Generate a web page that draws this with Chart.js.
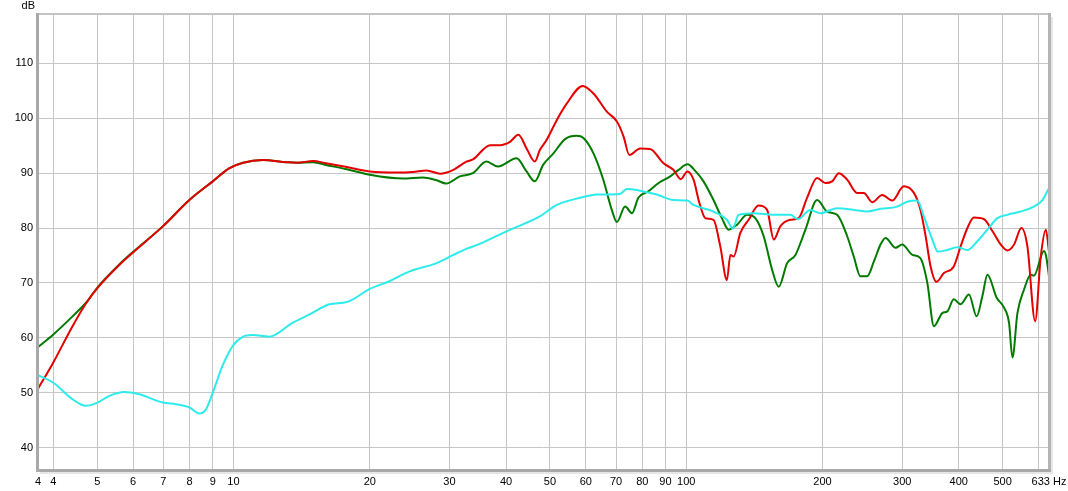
<!DOCTYPE html>
<html lang="en">
<head>
<meta charset="UTF-8">
<title>Frequency response</title>
<script src="https://cdn.jsdelivr.net/npm/chart.js@4.4.1/dist/chart.umd.min.js"></script>
<style>
    html, body { margin: 0; padding: 0; background: #fff; }
</style>
</head>
<body>
<canvas id="chart" width="1068" height="491"></canvas>
<script>
// x axis ticks (Hz) and their labels
const xTicks  = [3.7, 4, 5, 6, 7, 8, 9, 10, 20, 30, 40, 50, 60, 70, 80, 90, 100, 200, 300, 400, 500, 600, 633];
const xLabels = ['4', '4', '5', '6', '7', '8', '9', '10', '20', '30', '40', '50', '60', '70', '80', '90', '100', '200', '300', '400', '500', '', '633 Hz'];
const yTicks  = [40, 50, 60, 70, 80, 90, 100, 110];

// red curve
const redHz = [3.7, 4.0, 4.41, 4.76, 5.01, 5.6, 5.99, 6.98, 7.99, 9.0,
    9.8, 10.5, 11.6, 13.1, 13.8, 15.0, 16.0, 17.8, 20.0, 22.9,
    24.9, 26.7, 28.6, 30.6, 32.7, 33.8, 36.9, 38.8, 40.8, 42.6,
    44.4, 46.3, 47.5, 49.2, 51.8, 54.5, 59.1, 62.4, 66.8, 70.3,
    72.7, 74.9, 79.1, 83.2, 89.1, 93.7, 97.3, 100.6, 103.8, 107.0,
    110.2, 114.9, 118.9, 123.0, 125.2, 127.3, 131.7, 137.4, 144.5, 150.9,
    156.1, 161.4, 169.9, 177.2, 184.9, 194.6, 203.0, 210.1, 217.3, 226.8,
    238.6, 246.8, 257.6, 271.0, 285.2, 302.5, 318.4, 329.3, 338, 346.6,
    357, 371, 390, 404, 418, 432, 455, 475, 495, 512,
    530, 550, 567, 590, 607, 623, 633];
const redDb = [50.7, 55.5, 62.1, 66.7, 69.1, 73.3, 75.5, 80.3, 85.1, 88.5,
    90.9, 91.9, 92.4, 92.0, 91.9, 92.2, 91.8, 91.1, 90.3, 90.1,
    90.2, 90.5, 89.9, 90.6, 92.1, 92.5, 95.1, 95.1, 95.7, 97.0,
    94.5, 92.1, 94.2, 96.1, 99.7, 102.7, 105.9, 104.5, 101.2, 99.4,
    96.7, 93.3, 94.5, 94.4, 91.8, 90.6, 88.9, 90.3, 88.8, 84.5,
    81.8, 81.5, 76.7, 70.5, 75.1, 74.8, 79.1, 81.5, 84.1, 83.3,
    77.9, 80.3, 81.5, 81.8, 85.5, 89.1, 88.2, 88.5, 90.0, 88.8,
    86.4, 86.4, 84.7, 86.0, 85.0, 87.6, 86.4, 83.3, 78.5, 73.0,
    70.2, 71.8, 73.0, 76.7, 80.0, 81.9, 81.6, 79.4, 77.0, 75.9,
    77.0, 80.0, 76.7, 63.0, 74.8, 79.7, 75.7];

// green curve
const greenHz = [3.7, 4.0, 4.41, 4.76, 5.01, 5.6, 5.99, 6.98, 7.99, 9.0,
    9.8, 10.5, 11.6, 13.1, 13.8, 15.0, 16.0, 17.8, 20.0, 23.7,
    26.2, 28.1, 29.5, 31.6, 33.8, 36.2, 38.4, 42.2, 44.4, 46.3,
    48.3, 50.9, 54.0, 57.3, 59.3, 62.4, 65.6, 68.5, 70.3, 73.3,
    75.9, 78.4, 82.5, 86.9, 92.2, 96.2, 100.7, 104.7, 109.2, 114.9,
    119.9, 124.1, 129.5, 136.3, 142.1, 148.3, 154.8, 160.1, 167.1, 174.3,
    183.4, 194.6, 204.8, 215.5, 226.8, 234.5, 242.6, 251.0, 259.8, 268.7,
    275.6, 290.1, 300, 316, 329, 340.9, 352.5, 367.9, 377.4, 390,
    404, 421.3, 438.1, 451.1, 462.8, 485.1, 503.6, 516.6, 525.6, 539.1,
    557.6, 576.9, 586, 617.2, 624.0, 633];
const greenDb = [58.3, 60.6, 63.9, 66.7, 69.2, 73.4, 75.6, 80.3, 85.1, 88.5,
    90.9, 91.9, 92.4, 92.0, 91.9, 92.0, 91.5, 90.7, 89.7, 89.0,
    89.2, 88.7, 88.1, 89.4, 90.0, 92.1, 91.2, 92.7, 90.3, 88.5,
    91.5, 93.6, 96.2, 96.8, 96.4, 93.6, 88.8, 83.3, 81.1, 83.9,
    82.7, 85.5, 86.7, 88.2, 89.4, 90.6, 91.6, 90.4, 88.5, 85.1,
    81.8, 79.7, 80.6, 82.4, 81.8, 78.5, 72.4, 69.3, 73.6, 75.1,
    79.7, 85.1, 83.0, 82.4, 78.5, 74.8, 71.2, 71.2, 73.9, 77.0,
    78.2, 76.4, 77.0, 75.1, 74.5, 70.0, 62.1, 64.5, 64.8, 67.0,
    66.1, 67.9, 63.9, 67.6, 71.5, 67.3, 65.5, 62.7, 56.4, 64.5,
    68.8, 71.5, 71.3, 75.8, 74.8, 71.2];

// cyan curve
const cyanHz = [3.7, 4.0, 4.41, 4.72, 5.01, 5.32, 5.74, 6.19, 6.98, 7.47,
    7.99, 8.41, 8.70, 9.0, 9.47, 9.96, 10.5, 11.0, 12.0, 13.5,
    14.7, 16.3, 17.8, 20.0, 22.1, 24.5, 28.1, 30.6, 32.7, 35.0,
    40.1, 47.5, 51.8, 58.3, 63.5, 71.4, 73.9, 79.1, 86.1, 93.7,
    100.6, 103.8, 114.9, 123.0, 126.8, 130.5, 140.9, 156.1, 169.9, 176.3,
    188.1, 197.9, 215.5, 234.5, 251.0, 268.7, 292.5, 307.8, 323.9, 334.9,
    349.6, 359.7, 377.4, 397.1, 418, 439.6, 462.8, 486.9, 512, 548.2,
    586, 612.3, 633];
const cyanDb = [53.2, 51.8, 48.8, 47.6, 48.2, 49.4, 50.1, 49.7, 48.2, 47.9,
    47.3, 46.2, 47.0, 50.0, 55.0, 58.5, 60.2, 60.5, 60.2, 62.7,
    64.2, 66.1, 66.5, 68.9, 70.3, 72.1, 73.6, 75.1, 76.2, 77.1,
    79.4, 82.1, 84.2, 85.5, 86.1, 86.2, 87.1, 86.8, 86.1, 85.1,
    85.0, 84.2, 83.0, 81.5, 79.9, 82.4, 82.7, 82.4, 82.4, 81.6,
    83.3, 82.7, 83.6, 83.3, 83.0, 83.5, 83.9, 84.8, 85.0, 82.1,
    77.9, 75.7, 76.0, 76.5, 76.0, 77.6, 79.7, 81.8, 82.4, 83.0,
    83.9, 85.1, 87.3];

function pts(hz, db) {
    return hz.map((f, i) => ({ x: f, y: db[i] }));
}

const FONT = { family: '"Liberation Sans", Arial, sans-serif', size: 11 };

// gray frame round the plot + "dB" caption
const framePlugin = {
    id: 'frame',
    afterDraw(chart) {
        const ctx = chart.ctx;
        const a = chart.chartArea;
        const l = Math.round(a.left), r = Math.round(a.right);
        const t = Math.round(a.top), b = Math.round(a.bottom);
        ctx.save();
        // soft shadow right and below
        ctx.fillStyle = '#e6e6e6';
        ctx.fillRect(r + 1, t + 3, 3, b - t + 1);
        ctx.fillRect(l + 2, b + 1, r - l + 2, 3);
        // frame
        ctx.fillStyle = '#c4c4c4';
        ctx.fillRect(l - 1, t - 1, r - l + 2, 2);
        ctx.fillStyle = '#b4b4b4';
        ctx.fillRect(r - 1, t - 1, 3, b - t + 2);
        ctx.fillStyle = '#a9a9a9';
        ctx.fillRect(l - 2, t - 1, 3, b - t + 3);
        ctx.fillRect(l - 2, b - 1, r - l + 4, 3);
        // unit label
        ctx.fillStyle = '#000';
        ctx.font = '11px "Liberation Sans", Arial, sans-serif';
        ctx.textAlign = 'right';
        ctx.textBaseline = 'middle';
        ctx.fillText('dB', l - 3, 6);
        ctx.restore();
    }
};

new Chart(document.getElementById('chart'), {
    type: 'line',
    data: {
        datasets: [
            { label: 'cyan', data: pts(cyanHz, cyanDb), borderColor: 'rgb(45,235,235)', order: 0 },
            { label: 'red', data: pts(redHz, redDb), borderColor: 'rgb(228,0,0)', order: 1 },
            { label: 'green', data: pts(greenHz, greenDb), borderColor: 'rgb(0,122,0)', order: 2 }
        ]
    },
    options: {
        responsive: false,
        animation: false,
        layout: { padding: { top: 14, right: 19, left: 0, bottom: 0 } },
        elements: {
            point: { radius: 0 },
            line: { borderWidth: 2, cubicInterpolationMode: 'monotone', fill: false }
        },
        plugins: {
            legend: { display: false },
            tooltip: { enabled: false }
        },
        scales: {
            x: {
                type: 'logarithmic',
                min: 3.7,
                max: 633,
                border: { display: false },
                grid: { color: '#c6c6c6', lineWidth: 1, drawTicks: false },
                ticks: {
                    autoSkip: false,
                    maxRotation: 0,
                    padding: 5,
                    color: '#000',
                    font: FONT,
                    callback: (v, i) => xLabels[i]
                },
                afterBuildTicks: (scale) => { scale.ticks = xTicks.map(v => ({ value: v })); },
                afterFit: (scale) => {
                    scale.height = 21;
                    scale.paddingLeft = 0;
                    scale.paddingRight = 0;
                }
            },
            y: {
                type: 'linear',
                min: 35.9,
                max: 119,
                border: { display: false },
                grid: { color: '#c6c6c6', lineWidth: 1, drawTicks: false },
                ticks: {
                    padding: 5,
                    color: '#000',
                    font: FONT
                },
                afterBuildTicks: (scale) => { scale.ticks = yTicks.map(v => ({ value: v })); },
                afterFit: (scale) => { scale.width = 38; }
            }
        }
    },
    plugins: [framePlugin]
});
</script>
</body>
</html>
